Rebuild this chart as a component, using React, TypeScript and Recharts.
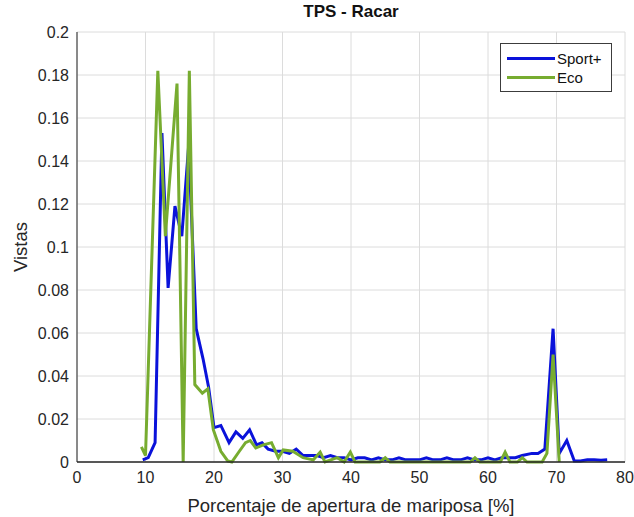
import React from "react";
import {
  LineChart,
  Line,
  XAxis,
  YAxis,
  CartesianGrid,
  Legend,
  ReferenceLine,
} from "recharts";

// TPS histogram, share of samples per throttle-opening bin
const sportX = [
  9.6, 10.4, 11.4, 12.4, 13.3, 14.3, 15.3, 16.3, 17.4, 18.4, 19.2, 20.0, 21.0, 22.2,
  23.2, 24.2, 25.2, 26.2, 27.0, 27.9, 29.0, 30.0, 31.0, 32.0, 33.0, 34.0, 35.0, 36.0,
  37.0, 38.0, 39.0, 40.0, 41.0, 42.0, 43.0, 44.0, 45.0, 46.0, 47.0, 48.0, 49.0, 50.0,
  51.0, 52.0, 53.0, 54.0, 55.0, 56.0, 57.0, 58.0, 59.0, 60.0, 61.0, 62.0, 63.0, 64.0,
  65.0, 66.4, 67.3, 68.3, 69.5, 70.4, 71.5, 72.6, 73.5, 74.5, 75.5, 76.5, 77.4,
];
const sportY = [
  0.001, 0.002, 0.009, 0.153, 0.081, 0.119, 0.105, 0.147, 0.062, 0.048, 0.035, 0.016,
  0.017, 0.009, 0.014, 0.011, 0.015, 0.008, 0.009, 0.006, 0.005, 0.005, 0.004, 0.006,
  0.003, 0.003, 0.003, 0.002, 0.003, 0.002, 0.002, 0.001, 0.002, 0.002, 0.001, 0.002,
  0.001, 0.001, 0.002, 0.001, 0.001, 0.001, 0.002, 0.001, 0.001, 0.002, 0.001, 0.001,
  0.002, 0.001, 0.001, 0.002, 0.001, 0.002, 0.002, 0.002, 0.003, 0.004, 0.004, 0.006,
  0.062, 0.004, 0.01, 0.0005, 0.0005, 0.001, 0.001, 0.0008, 0.001,
];

const ecoX = [
  9.4, 10.0, 11.8, 12.9, 14.6, 15.5, 16.4, 17.2, 18.3, 19.1, 19.9, 21.0, 22.0, 22.6,
  23.7, 24.6, 25.3, 26.1, 27.2, 28.4, 29.4, 30.1, 31.5, 33.0, 34.5, 35.5, 36.2, 38.0,
  39.0, 39.9, 40.6, 44.2, 45.0, 45.7, 57.4, 58.1, 58.8, 61.8, 62.5, 63.2, 64.3, 65.0,
  65.7, 67.9, 68.6, 69.5, 70.4,
];
const ecoY = [
  0.007, 0.003, 0.182, 0.105, 0.176, 0, 0.182, 0.036, 0.032, 0.034, 0.015, 0.005,
  0.0005, 0, 0.005, 0.009, 0.01, 0.0065, 0.008, 0.009, 0.002, 0.0056, 0.005, 0.002,
  0.001, 0.0046, 0, 0.002, 0, 0.0046, 0, 0, 0.002, 0, 0, 0.002, 0, 0, 0.0046, 0, 0,
  0.002, 0, 0, 0.004, 0.05, 0,
];

const xTicks = [0, 10, 20, 30, 40, 50, 60, 70, 80];
const yTicks = [0, 0.02, 0.04, 0.06, 0.08, 0.1, 0.12, 0.14, 0.16, 0.18, 0.2];

const seriesNames = ["Sport+", "Eco"];
const seriesColors = ["#0a12da", "#77ac30"];

const sportData = sportX.map((x, i) => ({ x, y: sportY[i] }));
const ecoData = ecoX.map((x, i) => ({ x, y: ecoY[i] }));

const FONT = "'Liberation Sans', Arial, sans-serif";

function LegendBox() {
  return (
    <div
      style={{
        position: "absolute",
        top: 43,
        left: 500,
        width: 112,
        height: 49,
        border: "1px solid #3c3c3c",
        background: "#fff",
        fontFamily: FONT,
        fontSize: 15,
        color: "#111",
        boxSizing: "border-box",
        padding: "5px 0 0 6px",
      }}
    >
      {seriesNames.map((name, i) => (
        <div key={name} style={{ display: "flex", alignItems: "center", height: 19 }}>
          <span
            style={{
              display: "inline-block",
              width: 48,
              height: 3,
              background: seriesColors[i],
              marginRight: 2,
            }}
          />
          {name}
        </div>
      ))}
    </div>
  );
}

export default function App() {
  return (
    <div
      style={{
        position: "absolute",
        left: 0,
        top: 0,
        width: 634,
        height: 517,
        background: "#fff",
        fontFamily: FONT,
      }}
    >
      <div
        style={{
          position: "absolute",
          top: 2,
          left: 77,
          width: 548,
          textAlign: "center",
          fontWeight: "bold",
          fontSize: 17,
          color: "#111",
        }}
      >
        TPS - Racar
      </div>
      <LineChart
        width={634}
        height={517}
        margin={{ top: 32, right: 9, bottom: 0, left: 0 }}
        style={{ fontFamily: FONT }}
      >
        <CartesianGrid stroke="#dcdcdc" strokeWidth={1} />
        <XAxis
          type="number"
          dataKey="x"
          domain={[0, 80]}
          ticks={xTicks}
          allowDataOverflow
          height={55}
          stroke="#262626"
          tickLine={false}
          tick={{ fontSize: 16, fill: "#262626", dy: 2 }}
          label={{
            value: "Porcentaje de apertura de mariposa [%]",
            position: "insideBottom",
            offset: 5,
            fontSize: 18.5,
            fill: "#262626",
          }}
        />
        <XAxis
          xAxisId="top"
          orientation="top"
          type="number"
          domain={[0, 80]}
          ticks={xTicks}
          height={0}
          stroke="#262626"
          tick={false}
          tickLine={false}
        />
        <YAxis
          type="number"
          domain={[0, 0.2]}
          ticks={yTicks}
          width={77}
          stroke="#262626"
          tickLine={false}
          tick={{ fontSize: 16, fill: "#262626" }}
          tickFormatter={(v: number) => String(Number(v.toFixed(2)))}
          label={{
            value: "Vistas",
            angle: -90,
            position: "insideLeft",
            offset: 20,
            fontSize: 18.5,
            fill: "#262626",
            style: { textAnchor: "middle" },
          }}
        />
        <YAxis
          yAxisId="right"
          orientation="right"
          domain={[0, 0.2]}
          width={0}
          stroke="#262626"
          tick={false}
          tickLine={false}
        />
        <Line
          data={sportData}
          dataKey="y"
          name={seriesNames[0]}
          type="linear"
          stroke={seriesColors[0]}
          strokeWidth={3}
          dot={false}
          isAnimationActive={false}
        />
        <Line
          data={ecoData}
          dataKey="y"
          name={seriesNames[1]}
          type="linear"
          stroke={seriesColors[1]}
          strokeWidth={3}
          dot={false}
          isAnimationActive={false}
        />
        <ReferenceLine y={0} stroke="#262626" />
        <Legend content={() => null} />
      </LineChart>
      <LegendBox />
    </div>
  );
}
